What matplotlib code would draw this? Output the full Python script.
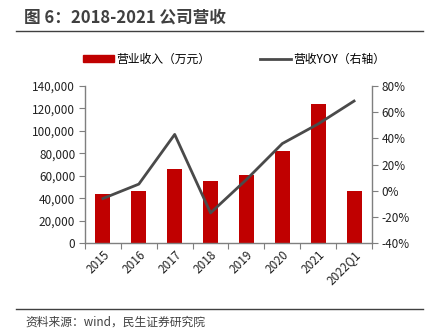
import matplotlib
matplotlib.use("Agg")
import matplotlib.pyplot as plt
from matplotlib.lines import Line2D
from matplotlib.patches import Patch
from matplotlib.ticker import FuncFormatter

plt.rcParams["font.family"] = ["Noto Sans CJK SC", "DejaVu Sans"]

categories = ["2015", "2016", "2017", "2018", "2019", "2020", "2021", "2022Q1"]
revenue = [44000, 46500, 66000, 55500, 60200, 82000, 124000, 46800]
revenue_yoy = [-6.0, 5.0, 43.0, -17.0, 8.5, 36.0, 51.0, 68.5]

BAR_COLOR = "#C00000"
LINE_COLOR = "#4A4A4A"
AXIS_COLOR = "#7F7F7F"
TEXT_COLOR = "#222222"

W, H = 431, 335
fig = plt.figure(figsize=(W / 100, H / 100), dpi=100)


def fx(px):
    return px / W


def fy(py):
    return 1 - py / H


# title, rules and source
fig.text(fx(24), fy(17), "图 6：2018-2021 公司营收", fontsize=12, fontweight="bold",
         color="#404040", va="center", ha="left")
fig.add_artist(Line2D([fx(16), fx(423)], [fy(31), fy(31)], color="#404040", lw=1.0))
fig.add_artist(Line2D([fx(16), fx(423)], [fy(309), fy(309)], color="#404040", lw=1.0))
fig.text(fx(25), fy(322), "资料来源：wind，民生证券研究院", fontsize=8.5, color="#404040",
         va="center", ha="left")

ax = fig.add_axes([fx(85), fy(243), fx(372) - fx(85), fy(86) - fy(243)])
ax2 = ax.twinx()

x = range(len(categories))
ax.bar(x, revenue, width=0.42, color=BAR_COLOR, zorder=2)
ax2.plot(x, revenue_yoy, color=LINE_COLOR, lw=2.0, zorder=3)

ax.set_xlim(-0.5, len(categories) - 0.5)
ax.set_ylim(0, 140000)
ax.set_yticks(range(0, 140001, 20000))
ax.yaxis.set_major_formatter(FuncFormatter(lambda v, _: f"{int(v):,}"))
ax2.set_ylim(-40, 80)
ax2.set_yticks(range(-40, 81, 20))
ax2.yaxis.set_major_formatter(FuncFormatter(lambda v, _: f"{int(v)}%"))

# ticks between categories, labels at the centres
ax.set_xticks([i - 0.5 for i in range(len(categories) + 1)])
ax.set_xticklabels([])
ax.set_xticks(list(x), minor=True)
ax.set_xticklabels(categories, minor=True, rotation=45, ha="right",
                   rotation_mode="anchor", fontsize=8.5, color=TEXT_COLOR)
ax.tick_params(axis="x", which="minor", length=0, pad=4)
ax.tick_params(axis="x", which="major", length=4, color=AXIS_COLOR, direction="out")

for a in (ax, ax2):
    a.set_zorder(1 if a is ax else 2)
    a.patch.set_visible(False)
    a.spines["top"].set_visible(False)
    for s in ("left", "right", "bottom"):
        a.spines[s].set_color(AXIS_COLOR)
        a.spines[s].set_linewidth(1.0)
    a.tick_params(axis="y", length=4, color=AXIS_COLOR, labelsize=8.5,
                  labelcolor=TEXT_COLOR, direction="out", pad=3)
ax.spines["right"].set_visible(False)
ax2.spines["left"].set_visible(False)
ax2.spines["bottom"].set_visible(False)

handles = [Patch(color=BAR_COLOR), Line2D([], [], color=LINE_COLOR, lw=2.0)]
fig.legend(handles, ["营业收入（万元）", "营收YOY（右轴）"], loc="center",
           bbox_to_anchor=(fx(234), fy(59)), ncol=2, frameon=False, fontsize=8.5,
           handlelength=2.6, handleheight=0.6, handletextpad=0.2, columnspacing=4.2)

fig.savefig("out.png", dpi=100)
